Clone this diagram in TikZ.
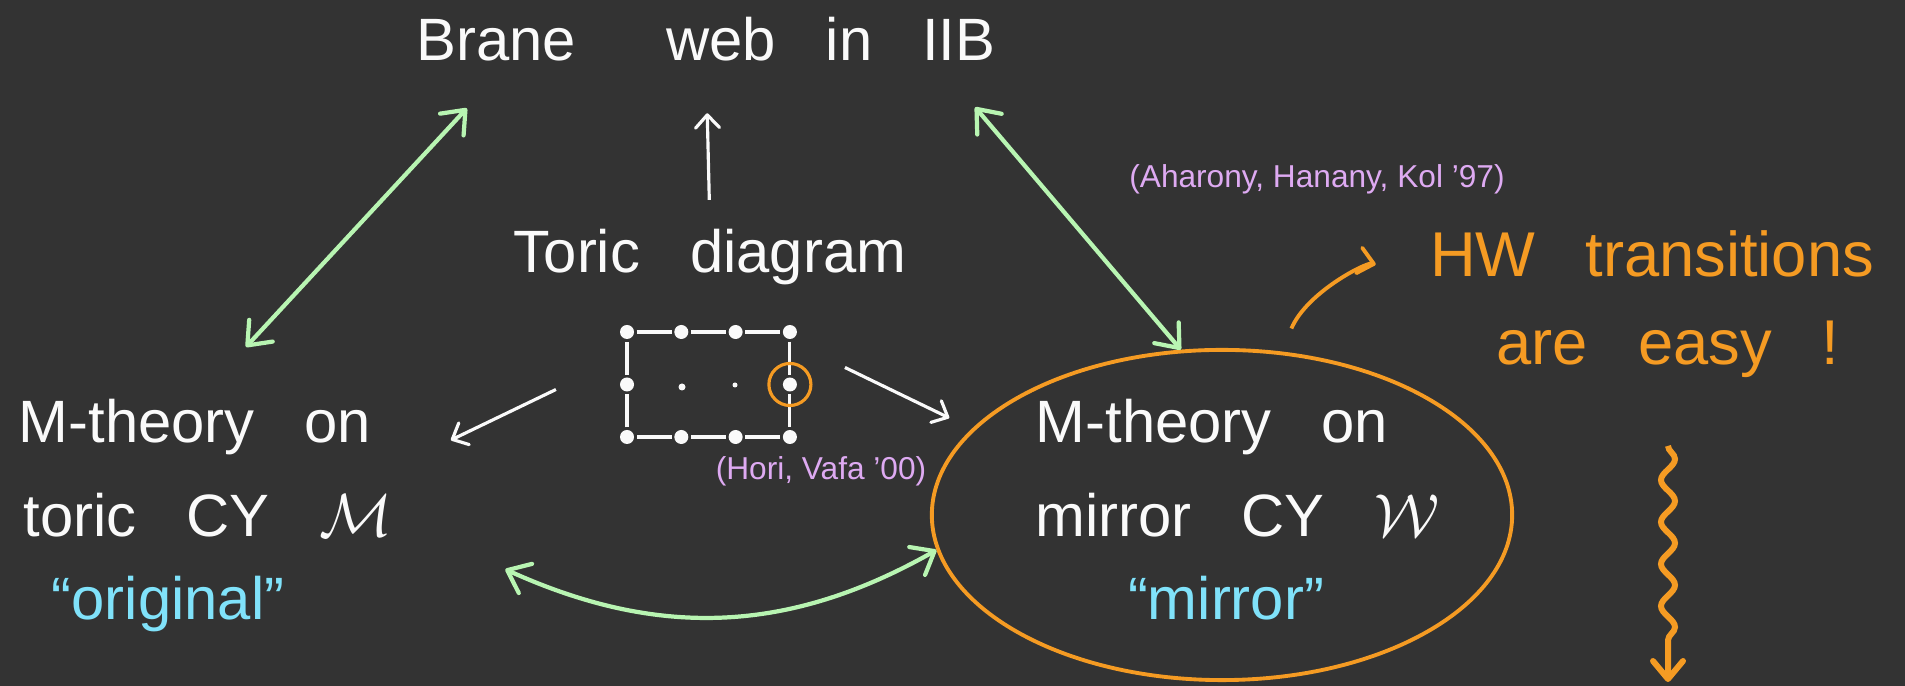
\documentclass[tikz,border=0pt]{standalone}
\usepackage{fontspec}
\setmainfont{Liberation Sans}
\usepackage{tikz}
\usetikzlibrary{arrows.meta,decorations.pathmorphing,shapes.geometric}

\definecolor{board}{RGB}{51,51,51}
\definecolor{chalk}{RGB}{250,250,250}
\definecolor{mint}{RGB}{184,245,178}
\definecolor{amber}{RGB}{245,155,35}
\definecolor{lilac}{RGB}{222,170,242}
\definecolor{sky}{RGB}{128,226,250}

\newcommand{\handbig}{\fontsize{17}{20}\selectfont\spaceskip=0.5cm\relax}
\newcommand{\handnote}{\fontsize{18}{22}\selectfont\spaceskip=0.5cm\relax}
\newcommand{\handsmall}{\fontsize{9}{11}\selectfont}

\begin{document}
\begin{tikzpicture}[x=0.01cm,y=-0.01cm,
    >={Straight Barb[round,length=0.13cm,width=0.24cm]},
    txt/.style={font=\handbig,text=chalk,inner sep=0pt},
    said/.style={font=\handbig,text=sky,inner sep=0pt},
    cites/.style={font=\handsmall,text=lilac,inner sep=0pt},
    remark/.style={font=\handnote,text=amber,inner sep=0pt},
    vertex/.style={circle,fill=chalk,inner sep=0pt,minimum size=0.14cm},
    gridline/.style={chalk,line width=0.9pt,shorten <=0.02cm,shorten >=0.02cm},
    whitearr/.style={->,chalk,line width=0.9pt},
    duo/.style={<->,mint,line width=1.2pt,>={Straight Barb[round,length=0.2cm,width=0.32cm]}},
    hintarr/.style={->,amber,line width=1.1pt,>={Straight Barb[round,length=0.15cm,width=0.26cm]}},
    wavy/.style={->,amber,line width=1.7pt,>={Straight Barb[round,length=0.18cm,width=0.3cm]},
      decorate,decoration={snake,amplitude=0.07cm,segment length=0.42cm,post length=0.3cm}}]
  \useasboundingbox (0,0) rectangle (1905,686);
  \fill[board] (0,0) rectangle (1905,686);

  % headings
  \node[txt,anchor=base] (brane) at (706,61) {Brane\hspace{0.4cm} web in IIB};
  \node[txt,anchor=base] (toric) at (710,273) {Toric diagram};

  % toric diagram
  \foreach \i/\j in {0/0,1/0,2/0,3/0,0/1,3/1,0/2,1/2,2/2,3/2}
    \node[vertex] (d\i\j) at ({627+54.3*\i},{332+52.5*\j}) {};
  \node[vertex,minimum size=0.07cm] (d11) at (682,387) {};
  \node[vertex,minimum size=0.05cm] (d21) at (735,385) {};
  \foreach \a/\b in {00/10,10/20,20/30,30/31,31/32,32/22,22/12,12/02,02/01,01/00}
    \draw[gridline] (d\a) -- (d\b);
  \node[draw=amber,circle,line width=0.9pt,minimum size=0.42cm,inner sep=0pt] (ring) at (d31) {};
  \node[cites,anchor=base] (hori) at (821,480) {(Hori, Vafa '00)};

  % original side
  \node[txt,anchor=base west] (origA) at (18,443) {M-theory on};
  \node[txt,anchor=base west] (origB) at (23,537) {toric CY $\mathcal{M}$};
  \node[said,anchor=base] (origC) at (168,620) {“original”};

  % mirror side
  \node[draw=amber,ellipse,line width=1.1pt,minimum width=5.8cm,minimum height=3.3cm,inner sep=0pt] (mirbox) at (1222,515) {};
  \node[txt,anchor=base west] (mirA) at (1035,443) {M-theory on};
  \node[txt,anchor=base west] (mirB) at (1035,537) {mirror CY $\mathcal{W}$};
  \node[said,anchor=base] (mirC) at (1226,620) {“mirror”};

  % citations and notes
  \node[cites,anchor=base] (aharony) at (1317,188) {(Aharony, Hanany, Kol '97)};
  \node[remark,anchor=base] (hw) at (1652,277) {HW transitions};
  \node[remark,anchor=base] (easy) at (1668,365) {are easy !};
  \coordinate (drop) at (1668,682);

  % arrows
  \draw[whitearr,shorten <=0.29cm,shorten >=0.51cm] (toric.north) -- (brane.south);
  \draw[whitearr] ([xshift=-0.71cm,yshift=-0.05cm]d01.center) -- ([xshift=0.79cm,yshift=0.16cm]origA.south east);
  \draw[whitearr,shorten >=0.25cm] ([xshift=0.55cm,yshift=0.17cm]d31.center) -- (mirbox.161);
  \draw[duo] ([xshift=0.51cm,yshift=0.52cm]origA.north) -- ([xshift=-2.39cm,yshift=-0.46cm]brane.south);
  \draw[duo] (mirbox.104) -- ([xshift=2.69cm,yshift=-0.45cm]brane.south);
  \draw[duo] ([xshift=4.82cm,yshift=-0.31cm]origB.south west) to[bend right=27] (mirbox.187);
  \draw[hintarr,shorten <=0.25cm,shorten >=0.55cm] (mirbox.70) to[bend left=40] (hw.base west);
  \draw[wavy] ([yshift=-0.67cm]easy.south) -- (drop);
\end{tikzpicture}
\end{document}
